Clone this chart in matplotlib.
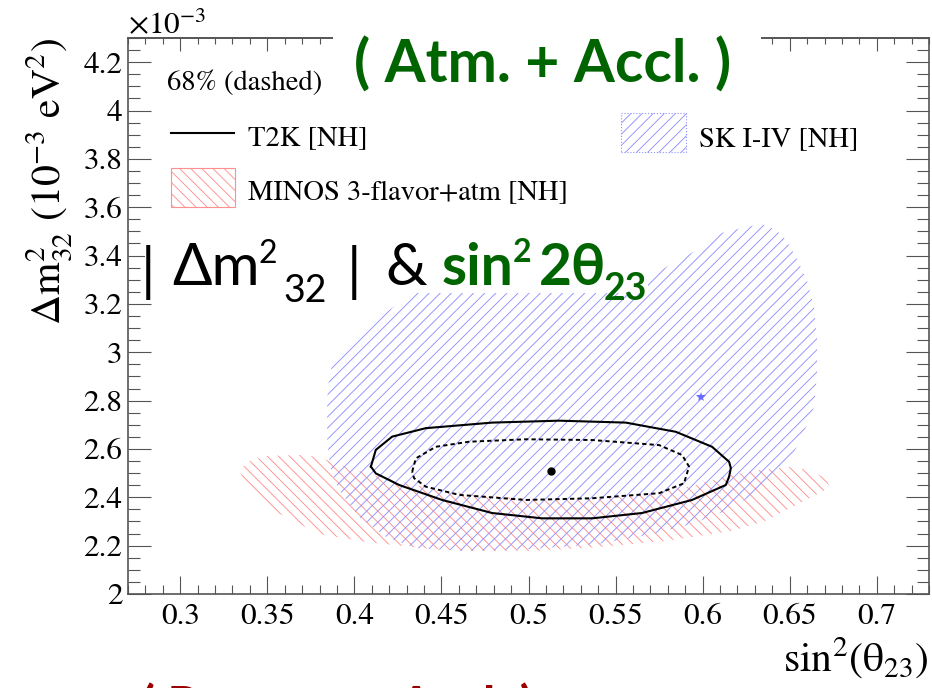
import matplotlib
matplotlib.use("Agg")
import matplotlib.pyplot as plt
from matplotlib.patches import Rectangle
from matplotlib.lines import Line2D
from matplotlib.ticker import MultipleLocator, FormatStrFormatter

# ---------------- data (sin^2 theta23, |dm^2_32| in 1e-3 eV^2) ----------------
t2k90_s2 = [0.4095, 0.4123, 0.4217, 0.4410, 0.4791, 0.5176, 0.5559, 0.5846, 0.6054,
            0.6152, 0.6162, 0.6152, 0.6133, 0.5939, 0.5652, 0.5365, 0.5078, 0.4791,
            0.4504, 0.4257, 0.4123]
t2k90_dm = [2.527, 2.596, 2.651, 2.686, 2.709, 2.717, 2.709, 2.671, 2.609,
            2.547, 2.521, 2.485, 2.451, 2.389, 2.335, 2.313, 2.313, 2.335,
            2.389, 2.451, 2.499]

t2k68_s2 = [0.4332, 0.4353, 0.4468, 0.4659, 0.4985, 0.5365, 0.5750, 0.5882, 0.5922,
            0.5893, 0.5750, 0.5365, 0.4985, 0.4602, 0.4410, 0.4343]
t2k68_dm = [2.506, 2.561, 2.609, 2.630, 2.640, 2.637, 2.616, 2.575, 2.527,
            2.458, 2.417, 2.396, 2.389, 2.410, 2.444, 2.479]

t2k_best_s2, t2k_best_dm = 0.513, 2.509

sk_s2 = [0.4372, 0.4831, 0.5290, 0.5635, 0.5710, 0.5865, 0.5997, 0.6111, 0.6249,
         0.6341, 0.6421, 0.6479, 0.6536, 0.6599, 0.6640, 0.6657, 0.6657, 0.6640,
         0.6594, 0.6513, 0.6456, 0.6301, 0.6129, 0.5939, 0.5710, 0.5400, 0.5021,
         0.4636, 0.4355, 0.4183, 0.4028, 0.3913, 0.3861, 0.3844, 0.3844, 0.3855,
         0.3873, 0.3941, 0.4028, 0.4114, 0.4200, 0.4286]
sk_dm = [3.278, 3.291, 3.299, 3.312, 3.320, 3.382, 3.436, 3.494, 3.518,
         3.531, 3.506, 3.465, 3.394, 3.299, 3.187, 3.051, 2.914, 2.774,
         2.691, 2.567, 2.509, 2.414, 2.343, 2.290, 2.248, 2.207, 2.186,
         2.178, 2.190, 2.236, 2.319, 2.430, 2.525, 2.637, 2.803, 2.898,
         2.952, 3.010, 3.059, 3.125, 3.175, 3.216]
sk_best_s2, sk_best_dm = 0.599, 2.816

minos_s2 = [0.3339, 0.3396, 0.3494, 0.3683, 0.3798, 0.3884, 0.4085, 0.4297, 0.4487,
            0.4791, 0.5118, 0.5405, 0.5681, 0.5939, 0.6134, 0.6324, 0.6496, 0.6611,
            0.6703, 0.6726, 0.6703, 0.6548, 0.6358, 0.6169, 0.5784, 0.5400, 0.5021,
            0.4636, 0.4389, 0.4068, 0.3798, 0.3551, 0.3367]
minos_dm = [2.513, 2.550, 2.571, 2.575, 2.567, 2.542, 2.496, 2.459, 2.430,
            2.405, 2.389, 2.393, 2.414, 2.447, 2.488, 2.513, 2.525, 2.513,
            2.480, 2.451, 2.430, 2.372, 2.302, 2.261, 2.219, 2.194, 2.178,
            2.178, 2.190, 2.215, 2.248, 2.339, 2.463]

x_range = (0.27, 0.73)
y_range = (2.0, 4.3)

legend_labels = ["T2K [NH]", "MINOS 3-flavor+atm [NH]", "SK I-IV [NH]"]

# ---------------- style ----------------
W, H = 932, 688
BLUE = "#9090ff"
RED = "#ff9090"
GREEN = "#006400"
DARKRED = "#990000"
AXCOL = "#555555"
HATCH_SK = "///"
HATCH_MINOS = "\\\\\\"

plt.rcParams["font.family"] = ["STIXGeneral", "DejaVu Sans"]
plt.rcParams["mathtext.fontset"] = "stix"
plt.rcParams["hatch.linewidth"] = 0.65


def fx(px):
    return px / W


def fy(py):
    return 1 - py / H


fig = plt.figure(figsize=(W / 100, H / 100), dpi=100)
fig.patch.set_facecolor("white")
ax = fig.add_axes([fx(128), fy(594), (929 - 128) / W, (594 - 38) / H])

# allowed regions
ax.fill(minos_s2, minos_dm, facecolor="none", edgecolor=RED, hatch=HATCH_MINOS,
        linewidth=0, zorder=1)
ax.fill(sk_s2, sk_dm, facecolor="none", edgecolor=BLUE, hatch=HATCH_SK,
        linewidth=0, zorder=1.1)

# T2K contours
ax.plot(t2k90_s2 + t2k90_s2[:1], t2k90_dm + t2k90_dm[:1], color="black",
        lw=1.5, zorder=3, solid_joinstyle="round")
ax.plot(t2k68_s2 + t2k68_s2[:1], t2k68_dm + t2k68_dm[:1], color="black",
        lw=1.4, ls=(0, (2.2, 1.6)), zorder=3)
ax.plot([t2k_best_s2], [t2k_best_dm], "o", color="black", ms=5, zorder=4)
ax.plot([sk_best_s2], [sk_best_dm], "*", color="#6a6aff", ms=7, mew=0, zorder=4)

ax.set_xlim(*x_range)
ax.set_ylim(*y_range)

# axes and ticks
for s in ax.spines.values():
    s.set_color(AXCOL)
    s.set_linewidth(1.2)
ax.xaxis.set_major_locator(MultipleLocator(0.05))
ax.xaxis.set_minor_locator(MultipleLocator(0.01))
ax.yaxis.set_major_locator(MultipleLocator(0.2))
ax.yaxis.set_minor_locator(MultipleLocator(0.05))
ax.xaxis.set_major_formatter(FormatStrFormatter("%g"))
ax.yaxis.set_major_formatter(FormatStrFormatter("%g"))
ax.tick_params(axis="x", which="both", direction="in", top=False, color=AXCOL,
               width=0.8, labelsize=22.5, pad=7)
ax.tick_params(axis="x", which="major", length=13)
ax.tick_params(axis="x", which="minor", length=6.5)
ax.tick_params(axis="y", which="both", direction="in", left=True, right=True,
               color=AXCOL, width=0.8, labelsize=22.5, pad=4)
ax.tick_params(axis="y", which="major", length=16.5)
ax.tick_params(axis="y", which="minor", length=8.5)

top = ax.secondary_xaxis("top")
top.xaxis.set_major_locator(MultipleLocator(0.05))
top.xaxis.set_minor_locator(MultipleLocator(0.01))
top.tick_params(which="both", direction="in", labeltop=False, color=AXCOL, width=0.8)
top.tick_params(which="major", length=9)
top.tick_params(which="minor", length=4.5)
top.spines["top"].set_color(AXCOL)
top.spines["top"].set_linewidth(1.2)

ax.set_xlabel(r"sin$^{2}$($\mathrm{\theta}_{23}$)", fontsize=30, loc="right")
ax.xaxis.set_label_coords(1.0, -0.075)
ax.set_ylabel(r"$\Delta\mathrm{m}^{2}_{32}$ (10$^{-3}$ eV$^{2}$)", fontsize=30, loc="top")
ax.yaxis.set_label_coords(-0.068, 1.0)

fig.text(fx(128), fy(33), r"$\times$10$^{-3}$", fontsize=22.5, va="baseline")

# legend
tr = fig.transFigure
fig.text(fx(167), fy(90), "68% (dashed)", fontsize=20.5, va="baseline")
fig.add_artist(Line2D([fx(171), fx(234)], [fy(133), fy(133)], color="black",
                      lw=1.5, transform=tr))
fig.text(fx(248), fy(145), legend_labels[0], fontsize=20.5, va="baseline")
fig.add_artist(Rectangle((fx(171), fy(207)), (235 - 171) / W, (207 - 168) / H,
                         transform=tr, facecolor="none", edgecolor=RED,
                         hatch=HATCH_MINOS, lw=0.8))
fig.text(fx(248), fy(200), legend_labels[1], fontsize=20.5, va="baseline")
fig.add_artist(Rectangle((fx(621), fy(152)), (686 - 621) / W, (152 - 113) / H,
                         transform=tr, facecolor="none", edgecolor=BLUE,
                         hatch=HATCH_SK, lw=0.8, ls=":"))
fig.text(fx(699), fy(146), legend_labels[2], fontsize=20.5, va="baseline")

# slide annotations on white boxes
fig.add_artist(Rectangle((fx(333), fy(105)), (761 - 333) / W, 80 / H,
                         transform=tr, facecolor="white", edgecolor="none", zorder=5))
fig.add_artist(Rectangle((fx(145), fy(293)), (648 - 145) / W, 63 / H,
                         transform=tr, facecolor="white", edgecolor="none", zorder=5))

sans = ["Lato", "DejaVu Sans"]
fig.text(fx(354), fy(83), "( Atm. + Accl. )", fontsize=42.5, fontweight="bold",
         color=GREEN, family=sans, va="baseline", zorder=6)

fig.text(fx(141), fy(290), "|", fontsize=42, color="black", family=sans,
         va="baseline", zorder=6)
fig.text(fx(172), fy(285), "\u0394m", fontsize=42, color="black", family=sans,
         va="baseline", zorder=6)
fig.text(fx(258), fy(263), "2", fontsize=23, color="black", family=sans,
         va="baseline", zorder=6)
fig.text(fx(283), fy(302), "32", fontsize=27, color="black", family=sans,
         va="baseline", zorder=6)
fig.text(fx(347), fy(290), "|", fontsize=42, color="black", family=sans,
         va="baseline", zorder=6)
fig.text(fx(385), fy(285), "&", fontsize=42, color="black", family=sans,
         va="baseline", zorder=6)
fig.text(fx(442), fy(285), "sin", fontsize=41, color=GREEN, family=sans,
         fontweight="bold", va="baseline", zorder=6)
fig.text(fx(513), fy(262), "2", fontsize=23, color=GREEN, family=sans,
         fontweight="bold", va="baseline", zorder=6)
fig.text(fx(539), fy(285), "2\u03b8", fontsize=41, color=GREEN, family=sans,
         fontweight="bold", va="baseline", zorder=6)
fig.text(fx(604), fy(300), "23", fontsize=27, color=GREEN, family=sans,
         fontweight="bold", va="baseline", zorder=6)

fig.text(fx(141), fy(723), "( Reactor + Accl. )", fontsize=36.5, fontweight="bold",
         color=DARKRED, family=sans, va="baseline", zorder=6)

fig.savefig("out.png", dpi=100, facecolor="white")
